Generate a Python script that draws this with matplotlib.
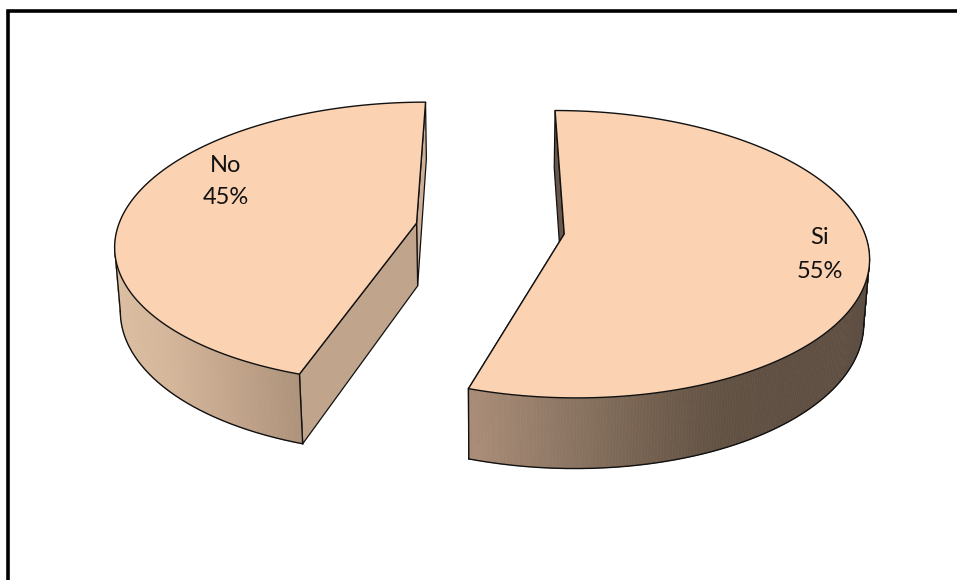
import numpy as np
import matplotlib
matplotlib.use("Agg")
import matplotlib.pyplot as plt
from matplotlib.patches import Polygon
from matplotlib.collections import PolyCollection
from matplotlib.colors import LinearSegmentedColormap

categories = ["Si", "No"]
values = [55, 45]
percent_labels = ["55%", "45%"]

W, H_PX = 957, 580
TOP = "#FBD2B2"
PX, PY = 490.0, 228.5      # centre of projection on the canvas
F, H, K = 299.0, 139.3, 0.14
DEPTH, M = 64.0, 0.015
EXPLODE = 0.25
EDGE = "#111111"

wall_cmaps = {
    "Si": (469, 790, ["#ab8e79", "#8f7865", "#6f5c4c", "#625244", "#5f4f42"], [0, .28, .62, .8, 1]),
    "No": (113, 302, ["#dcbfa3", "#d3b599", "#c0a389", "#ad927b"], [0, .3, .65, 1]),
}
radial_far = {"Si": "#68574a", "No": "#cdb097"}
radial_near = {"Si": "#68574a", "No": "#c0a48c"}
label_xy = {"Si": (820, 238, 272), "No": (226, 166, 198)}


def project(x, y, bottom=False):
    x, y = np.asarray(x, float), np.asarray(y, float)
    w = 1 + K * y + (M if bottom else 0)
    d = DEPTH if bottom else 0
    return PX + F * x / w, PY + (-H * y + d) / w


fig = plt.figure(figsize=(W / 100, H_PX / 100), dpi=100)
ax = fig.add_axes([0, 0, 1, 1])
ax.set_xlim(0, W)
ax.set_ylim(H_PX, 0)
ax.axis("off")

# frame: only the top and left rules exist in the reference
ax.plot([8, 8, W], [H_PX, 11.3, 11.3], color="black", lw=2.6, solid_joinstyle="miter", zorder=1)

total = sum(values)
start = 0.0
for name, val, pct in zip(categories, values, percent_labels):
    sweep = 360.0 * val / total
    end = start + sweep
    mid = np.radians((start + end) / 2)
    cx, cy = EXPLODE * np.sin(mid), EXPLODE * np.cos(mid)
    th = np.radians(np.linspace(start, end, 361))
    ox, oy = cx + np.sin(th), cy + np.cos(th)

    tx, ty = project(ox, oy)
    bx, by = project(ox, oy, True)
    atx, aty = project(cx, cy)
    abx, aby = project(cx, cy, True)

    # radial face at the far edge of the slice
    far = 0 if name == "Si" else -1
    near = -1 if name == "Si" else 0
    ax.add_patch(Polygon([(tx[far], ty[far]), (atx, aty), (abx, aby), (bx[far], by[far])],
                         closed=True, fc=radial_far[name], ec=EDGE, lw=0.9, zorder=2))
    # radial face at the near edge of the slice
    ax.add_patch(Polygon([(tx[near], ty[near]), (atx, aty), (abx, aby), (bx[near], by[near])],
                         closed=True, fc=radial_near[name], ec=EDGE, lw=0.9, zorder=3))

    # outer wall: only its front-facing part shows
    x0, x1, cols, stops = wall_cmaps[name]
    cmap = LinearSegmentedColormap.from_list(name, list(zip(stops, cols)))
    quads, colors = [], []
    for i in range(len(th) - 1):
        if oy[i] > cy + 0.35 and oy[i + 1] > cy + 0.35:
            continue
        quads.append([(tx[i], ty[i]), (tx[i + 1], ty[i + 1]), (bx[i + 1], by[i + 1]), (bx[i], by[i])])
        c = cmap(np.clip((0.5 * (tx[i] + tx[i + 1]) - x0) / (x1 - x0), 0, 1))
        colors.append(c)
    ax.add_collection(PolyCollection(quads, facecolors=colors, edgecolors=colors, linewidths=0.5, zorder=4))

    # lower rim from the front corner to the silhouette, then up to the top rim
    if name == "Si":
        et, eb = int(np.argmax(tx)), int(np.argmax(bx))
        rim = np.arange(eb, len(th))
    else:
        et, eb = int(np.argmin(tx)), int(np.argmin(bx))
        rim = np.arange(0, eb + 1)
    ax.plot(bx[rim], by[rim], color=EDGE, lw=1.0, zorder=5)
    ax.plot([tx[et], bx[eb]], [ty[et], by[eb]], color=EDGE, lw=1.0, zorder=5)
    ax.plot([tx[near], bx[near]], [ty[near], by[near]], color=EDGE, lw=1.0, zorder=5)

    # top face
    ax.add_patch(Polygon(np.column_stack([np.r_[atx, tx], np.r_[aty, ty]]), closed=True,
                         fc=TOP, ec=EDGE, lw=1.0, joinstyle="round", zorder=6))

    lx, ly1, ly2 = label_xy[name]
    ax.text(lx, ly1, name, ha="center", va="center", fontsize=17, family="Lato", color="#111111", zorder=7)
    ax.text(lx, ly2, pct, ha="center", va="center", fontsize=17, family="Lato", color="#111111", zorder=7)
    start = end

fig.savefig("out.png", dpi=100, facecolor="white")
